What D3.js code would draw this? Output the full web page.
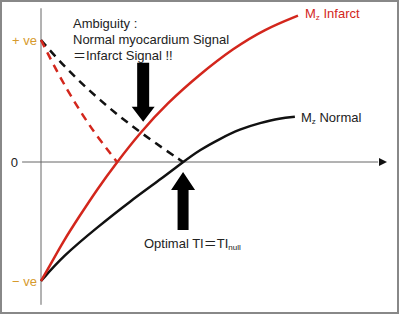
<!DOCTYPE html>
<html>
<head>
<meta charset="utf-8">
<script src="https://cdn.jsdelivr.net/npm/d3@7"></script>
<style>
  body { margin: 0; background: #fff; }
  text { font-family: "Liberation Sans", Arial, "Noto Sans CJK JP", sans-serif; }
</style>
</head>
<body>
<svg width="400" height="315"></svg>
<script>
var WIDTH = 400;
var HEIGHT = 315;

// time axis (arbitrary units) and signal values
var infarctT = [0, 0.26, 0.64, 1.13, 1.63, 2.21, 2.88, 3.66, 4.62, 5.58, 6.51, 7.47];
var infarctMz = [-1, -0.87, -0.67, -0.45, -0.23, 0, 0.24, 0.48, 0.72, 0.93, 1.09, 1.2];

var normalT = [0, 0.64, 1.63, 2.59, 3.55, 4.13, 4.62, 5.2, 5.78, 6.37, 6.95, 7.38];
var normalMz = [-1, -0.79, -0.55, -0.33, -0.13, 0, 0.1, 0.19, 0.27, 0.32, 0.36, 0.37];

// magnitude (dashed) before the null point
var normalAbsT = [0, 0.64, 1.72, 2.88, 4.13];
var normalAbs = [1, 0.79, 0.5, 0.24, 0];
var infarctAbsT = [0, 0.32, 0.76, 1.22, 1.63, 2.21];
var infarctAbs = [1, 0.82, 0.59, 0.38, 0.21, 0];

var yTicks = [1, 0, -1];
var yTickLabels = ['+ ve', '0', '\u2212 ve'];

var x = d3.scaleLinear().domain([0, 10]).range([41, 385]);
var y = d3.scaleLinear().domain([-1, 0, 1]).range([281, 162, 40]);

var svg = d3.select('svg');

svg.append('rect')
    .attr('x', 1).attr('y', 1)
    .attr('width', WIDTH - 3).attr('height', HEIGHT - 3)
    .attr('fill', 'none')
    .attr('stroke', '#888')
    .attr('stroke-width', 2);

// axes
svg.append('line')
    .attr('x1', x(0)).attr('x2', x(0))
    .attr('y1', y(1.26)).attr('y2', y(-1.2))
    .attr('stroke', '#666').attr('stroke-width', 1);

svg.append('line')
    .attr('x1', x(-0.55)).attr('x2', x(9.8))
    .attr('y1', y(0)).attr('y2', y(0))
    .attr('stroke', '#666').attr('stroke-width', 1);

svg.append('path')
    .attr('d', 'M' + (x(10) + 2) + ',' + y(0) + 'l-8,-4l0,8z')
    .attr('fill', '#111');

svg.selectAll('.ylab')
    .data(yTicks)
    .enter()
    .append('text')
    .attr('class', 'ylab')
    .attr('x', function(d) { return d === 0 ? 18 : 37; })
    .attr('y', function(d) { return y(d) + 4.5; })
    .attr('text-anchor', 'end')
    .attr('font-size', 13)
    .attr('fill', function(d) { return d === 0 ? '#222' : '#d69a2d'; })
    .text(function(d, i) { return yTickLabels[i]; });

function zip(ts, vs) {
    return ts.map(function(t, i) { return [t, vs[i]]; });
}

var line = d3.line()
    .x(function(d) { return x(d[0]); })
    .y(function(d) { return y(d[1]); })
    .curve(d3.curveBasis);

var curves = [
    { pts: zip(normalAbsT, normalAbs), color: '#111', dash: '8,6' },
    { pts: zip(infarctAbsT, infarctAbs), color: '#d3261c', dash: '8,6' },
    { pts: zip(normalT, normalMz), color: '#111', dash: null },
    { pts: zip(infarctT, infarctMz), color: '#d3261c', dash: null }
];

svg.selectAll('.curve')
    .data(curves)
    .enter()
    .append('path')
    .attr('class', 'curve')
    .attr('d', function(d) { return line(d.pts); })
    .attr('fill', 'none')
    .attr('stroke', function(d) { return d.color; })
    .attr('stroke-width', 2.5)
    .attr('stroke-dasharray', function(d) { return d.dash; });

// block arrows: tip position in data units, dir 1 = pointing down
function blockArrow(tx, ty, dir, headW, headL, shaftW, shaftL) {
    var px = x(tx), py = y(ty), s = -dir;
    var pts = [
        [px, py],
        [px + headW, py + s * headL],
        [px + shaftW, py + s * headL],
        [px + shaftW, py + s * (headL + shaftL)],
        [px - shaftW, py + s * (headL + shaftL)],
        [px - shaftW, py + s * headL],
        [px - headW, py + s * headL]
    ];
    svg.append('polygon')
        .attr('points', pts.map(function(p) { return p.join(','); }).join(' '))
        .attr('fill', '#000');
}
blockArrow(2.97, 0.33, 1, 11.5, 15, 6, 44);
blockArrow(4.13, -0.084, -1, 12, 18, 5.5, 40);

// annotations
var ambiguityLines = ['Ambiguity :', 'Normal myocardium Signal', '\uff1dInfarct Signal !!'];
svg.selectAll('.amb')
    .data(ambiguityLines)
    .enter()
    .append('text')
    .attr('x', 73)
    .attr('y', function(d, i) { return 28 + i * 16; })
    .attr('font-size', 13)
    .attr('fill', '#222')
    .text(function(d) { return d; });

function mzLabel(xp, yp, name, color) {
    var t = svg.append('text')
        .attr('x', xp).attr('y', yp)
        .attr('font-size', 13)
        .attr('fill', color);
    t.append('tspan').text('M');
    t.append('tspan').attr('font-size', 8).attr('dy', 2).text('z');
    t.append('tspan').attr('dy', -2).text(' ' + name);
}
mzLabel(305, 18, 'Infarct', '#d3261c');
mzLabel(301, 122, 'Normal', '#222');

var opt = svg.append('text')
    .attr('x', 144).attr('y', 248)
    .attr('font-size', 13)
    .attr('fill', '#222');
opt.append('tspan').text('Optimal TI\uff1dTI');
opt.append('tspan').attr('font-size', 8).attr('dy', 2).attr('fill', '#222').text('null');
</script>
</body>
</html>
